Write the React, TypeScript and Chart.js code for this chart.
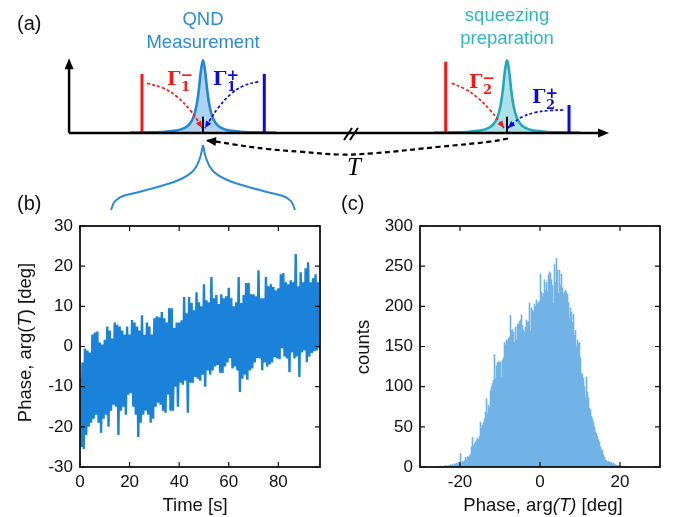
import React, { useEffect, useRef } from "react";
import { Chart, registerables } from "chart.js";

Chart.register(...registerables);

const SANS = '"Liberation Sans", Arial, Helvetica, sans-serif';
const SERIF = '"DejaVu Serif", "Liberation Serif", serif';
const ITSERIF = '"Liberation Serif", "DejaVu Serif", serif';

// ---------------- (b) phase trace: upper / lower excursion in each second ----------------
const traceStepSec = 1;
const phaseHigh = [
  -8, -4, -0.5, -1, -1.5, 3, 3.5, 3.7, 1, 0.5,
  1.7, 5, 4, 2, 6, 5.4, 5, 4, 3, 5,
  3, 6.6, 6, 5, 4, 7.8, 2.9, 6, 5, 3,
  7, 7.5, 7.3, 8.6, 7, 6, 9.6, 9.5, 4.6, 6,
  6, 6.5, 12.3, 8.3, 12.3, 10.8, 9, 13.5, 11, 10,
  15.5, 11.5, 11, 17.3, 12, 12.8, 10.6, 13, 12, 12.5,
  14.6, 12, 10, 11, 17.3, 10.8, 12.8, 15.8, 15.8, 13,
  13, 12.5, 19, 12, 12, 17.3, 15, 15.5, 14.8, 14,
  14.5, 18, 18.3, 16, 15.5, 16.5, 16, 23, 15, 18.5,
  16, 19.5, 21, 16, 17, 18, 16,
];
const phaseLow = [
  -25, -25.5, -22, -20, -19, -18, -17, -19, -21.5, -18,
  -17, -20, -16, -14.5, -15, -22, -16, -15, -17, -12,
  -11.6, -15, -17, -22.5, -19, -17, -16, -17, -19, -18,
  -15, -14, -14.5, -16, -16.5, -12, -16, -16, -10, -15,
  -9, -9.5, -8.5, -16.5, -9, -9, -7.6, -8, -8.5, -7,
  -10, -6, -7, -6, -5, -4.6, -6.5, -6.6, -5, -4,
  -2.9, -5.5, -5, -6, -11.3, -8, -7, -8.3, -6, -5.5,
  -4, -2.9, -3, -5.9, -4, -5, -4.5, -4, -2.7, -3,
  -3.2, -0.4, -2.5, -3, -6.4, -1.5, -3, -2.5, -7.6, -1.5,
  -1, -3.9, -2.5, -1.6, -1.2, -1, -0.5,
];
const timeTicks = [0, 20, 40, 60, 80];
const phaseTicks = [-30, -20, -10, 0, 10, 20, 30];

// ---------------- (c) histogram of phase ----------------
const histStartDeg = -26;
const histBinDeg = 0.25;
const histCounts = [
  0, 0, 1, 0, 1, 0, 1, 1, 1, 2, 1, 1, 2, 1, 3, 2,
  3, 2, 4, 3, 5, 3, 6, 4, 17, 5, 7, 6, 8, 12, 9, 13,
  12, 14, 16, 25, 37, 26, 29, 31, 33, 36, 34, 38, 56, 48, 52, 55,
  60, 68, 85, 66, 77, 74, 95, 100, 104, 108, 140, 110, 126, 130, 131, 130,
  131, 112, 133, 136, 155, 152, 158, 157, 160, 162, 189, 170, 171, 168, 155, 174,
  158, 177, 178, 181, 183, 189, 176, 170, 168, 174, 183, 180, 181, 204, 169, 198,
  195, 193, 203, 200, 208, 203, 205, 206, 240, 218, 212, 216, 233, 220, 230, 218,
  239, 243, 241, 233, 226, 204, 252, 230, 260, 245, 216, 245, 226, 240, 223, 214,
  218, 220, 217, 215, 205, 185, 198, 193, 180, 190, 164, 170, 150, 158, 154, 155,
  136, 117, 115, 110, 100, 86, 112, 93, 86, 73, 71, 63, 60, 56, 50, 44,
  42, 38, 34, 31, 25, 21, 21, 15, 12, 9, 8, 6, 7, 6, 5, 6,
  4, 5, 3, 3, 2, 2, 1, 2, 1, 0, 1, 1, 0, 1, 0, 0,
];
const histPhaseTicks = [-20, 0, 20];
const countTicks = [0, 50, 100, 150, 200, 250, 300];

// ---------------- (a) schematic (frequency axis units / amplitude units) ----------------
const lorentzOffsets = [-13.5, -10, -7, -5, -3.5, -2.5, -1.8, -1.2, -0.8, -0.4, 0, 0.4, 0.8, 1.2, 1.8, 2.5, 3.5, 5, 7, 10, 13.5];
const lorentzHeights = [0.005, 0.009, 0.017, 0.033, 0.066, 0.122, 0.211, 0.375, 0.575, 0.844, 1, 0.844, 0.575, 0.375, 0.211, 0.122, 0.066, 0.033, 0.017, 0.009, 0.005];
const peakCenters = [25, 81.3];
const redLineX = [13.7, 69.94];
const redLineH = [0.808, 0.977];
const blueLineX = [36.35, 92.78];
const blueLineH = [0.808, 0.384];
const centerTickH = 0.224;
const red1Path = [[14.63, 0.681], [17.59, 0.616], [20.19, 0.497], [22.59, 0.315], [24.07, 0.164], [24.81, 0.068]];
const blue1Path = [[35.24, 0.703], [32.41, 0.644], [30.0, 0.521], [27.78, 0.342], [26.3, 0.178], [25.37, 0.068]];
const red2Path = [[71.06, 0.681], [73.52, 0.603], [75.93, 0.479], [78.15, 0.315], [79.81, 0.164], [80.74, 0.068]];
const blue2Path = [[91.72, 0.315], [89.26, 0.308], [86.48, 0.281], [84.07, 0.219], [82.59, 0.144], [81.48, 0.068]];
const delayPath = [[81.48, -0.075], [78.15, -0.119], [68.89, -0.188], [56.48, -0.278], [50.37, -0.295], [42.96, -0.256], [36.85, -0.219], [30.56, -0.155], [27.22, -0.116], [25.56, -0.103]];
const braceRight = [[25, -0.164], [25.56, -0.342], [26.67, -0.507], [29.07, -0.63], [32.78, -0.726], [36.85, -0.808], [39.81, -0.863], [41.3, -0.932], [42.04, -1.055]];
const braceLeft = [[25, -0.164], [24.44, -0.342], [23.33, -0.507], [20.93, -0.63], [17.22, -0.726], [13.15, -0.808], [10.19, -0.863], [8.7, -0.932], [7.96, -1.055]];
const yAxisPath = [[0.2, 0], [0.2, 0.9]];
const xAxisPath = [[0.2, 0], [98.5, 0]];
const breakMarkA = [[51.11, -0.096], [52.59, 0.068]];
const breakMarkB = [[52.22, -0.096], [53.7, 0.068]];

const TRACE = "#1a82d8";
const HIST = "#72b3e6";
const QNDC = "#2b8bd8";
const SQZC = "#2db6c6";
const L1S = "#1e88d6";
const L1F = "rgba(40,140,215,0.38)";
const L2S = "#1fa9bb";
const L2F = "rgba(40,175,195,0.38)";
const RED = "#ff1414";
const BLUE = "#0a0ae6";

const pts = (arr: number[][]) => arr.map(([x, y]) => ({ x, y }));
const lineDs = (arr: number[][], color: string, width: number, extra: any = {}) => ({
  data: pts(arr),
  showLine: true,
  borderColor: color,
  backgroundColor: color,
  borderWidth: width,
  pointRadius: 0,
  fill: false,
  tension: 0,
  ...extra,
});

function drawHead(ctx: CanvasRenderingContext2D, tx: number, ty: number, fx: number, fy: number, len: number, wid: number, color: string) {
  const a = Math.atan2(ty - fy, tx - fx);
  ctx.save();
  ctx.translate(tx, ty);
  ctx.rotate(a);
  ctx.beginPath();
  ctx.moveTo(0, 0);
  ctx.lineTo(-len, wid / 2);
  ctx.lineTo(-len, -wid / 2);
  ctx.closePath();
  ctx.fillStyle = color;
  ctx.fill();
  ctx.restore();
}

type Seg = { t: string; it?: boolean };
function drawSegs(ctx: CanvasRenderingContext2D, segs: Seg[], cx: number, by: number, size: number) {
  const fontOf = (s: Seg) => `${s.it ? "italic " : ""}${size}px ${SANS}`;
  let total = 0;
  const ws = segs.map((s) => {
    ctx.font = fontOf(s);
    const w = ctx.measureText(s.t).width;
    total += w;
    return w;
  });
  let x = cx - total / 2;
  ctx.textAlign = "left";
  ctx.textBaseline = "alphabetic";
  segs.forEach((s, i) => {
    ctx.font = fontOf(s);
    ctx.fillText(s.t, x, by);
    x += ws[i];
  });
}

function makeFramePlugin(cfg: any) {
  return {
    id: "frame",
    afterDatasetsDraw(chart: any) {
      const { ctx, chartArea: a, scales } = chart;
      const len = 5;
      ctx.save();
      ctx.strokeStyle = "#111";
      ctx.lineWidth = 1.2;
      ctx.beginPath();
      for (const t of scales.x.ticks) {
        const px = scales.x.getPixelForValue(t.value);
        ctx.moveTo(px, a.bottom);
        ctx.lineTo(px, a.bottom - len);
        ctx.moveTo(px, a.top);
        ctx.lineTo(px, a.top + len);
      }
      for (const t of scales.y.ticks) {
        const py = scales.y.getPixelForValue(t.value);
        ctx.moveTo(a.left, py);
        ctx.lineTo(a.left + len, py);
        ctx.moveTo(a.right, py);
        ctx.lineTo(a.right - len, py);
      }
      ctx.stroke();
      ctx.lineWidth = 1.8;
      ctx.strokeRect(a.left, a.top, a.right - a.left, a.bottom - a.top);
      ctx.restore();
    },
    afterDraw(chart: any) {
      const ctx = chart.ctx;
      ctx.save();
      ctx.fillStyle = "#111";
      drawSegs(ctx, cfg.xTitle, cfg.xTitleX, cfg.xTitleY, 18.5);
      ctx.save();
      ctx.translate(cfg.yTitleX, cfg.yTitleY);
      ctx.rotate(-Math.PI / 2);
      drawSegs(ctx, cfg.yTitle, 0, 0, 18.5);
      ctx.restore();
      ctx.font = `20px ${SANS}`;
      ctx.textAlign = "left";
      ctx.textBaseline = "alphabetic";
      ctx.fillText(cfg.label, cfg.labelX, cfg.labelY);
      ctx.restore();
    },
  };
}

const tickFont = { family: SANS, size: 17 };

function axisCommon(ticks: number[], extra: any) {
  return {
    type: "linear",
    afterBuildTicks: (s: any) => {
      s.ticks = ticks.map((v) => ({ value: v }));
    },
    grid: { display: false, drawTicks: false },
    border: { display: false },
    ...extra,
  };
}

function cfgB(): any {
  const data: { x: number; y: number }[] = [];
  phaseHigh.forEach((h, i) => {
    data.push({ x: i * traceStepSec, y: h });
    data.push({ x: (i + 0.5) * traceStepSec, y: phaseLow[i] });
  });
  return {
    type: "scatter",
    data: {
      datasets: [
        {
          data,
          showLine: true,
          borderColor: TRACE,
          backgroundColor: TRACE,
          borderWidth: 2.4,
          borderJoinStyle: "bevel",
          pointRadius: 0,
          tension: 0,
        },
      ],
    },
    options: {
      responsive: false,
      animation: false,
      events: [],
      layout: { padding: { top: 36, right: 10, left: 0, bottom: 0 } },
      plugins: { legend: { display: false }, tooltip: { enabled: false } },
      scales: {
        x: axisCommon(timeTicks, {
          min: 0,
          max: 96.8,
          afterFit: (s: any) => {
            s.height = 50;
          },
          ticks: { font: tickFont, color: "#111", padding: 5, maxRotation: 0, autoSkip: false },
        }),
        y: axisCommon(phaseTicks, {
          min: -30,
          max: 30,
          afterFit: (s: any) => {
            s.width = 80;
          },
          ticks: { font: tickFont, color: "#111", padding: 7, autoSkip: false },
        }),
      },
    },
    plugins: [
      makeFramePlugin({
        xTitle: [{ t: "Time [s]" }],
        xTitleX: 195,
        xTitleY: 321,
        yTitle: [{ t: "Phase, arg(" }, { t: "T", it: true }, { t: ") [deg]" }],
        yTitleX: 31,
        yTitleY: 152.5,
        label: "(b)",
        labelX: 17,
        labelY: 20,
      }),
    ],
  };
}

function cfgC(): any {
  const data = histCounts.map((c, i) => ({ x: histStartDeg + (i + 0.5) * histBinDeg, y: c }));
  return {
    type: "bar",
    data: {
      datasets: [
        { data, backgroundColor: HIST, borderWidth: 0, barPercentage: 1, categoryPercentage: 1 },
      ],
    },
    options: {
      responsive: false,
      animation: false,
      events: [],
      layout: { padding: { top: 36, right: 13, left: 0, bottom: 0 } },
      plugins: { legend: { display: false }, tooltip: { enabled: false } },
      scales: {
        x: axisCommon(histPhaseTicks, {
          min: -30,
          max: 30,
          offset: false,
          afterFit: (s: any) => {
            s.height = 50;
          },
          ticks: { font: tickFont, color: "#111", padding: 5, maxRotation: 0, autoSkip: false },
        }),
        y: axisCommon(countTicks, {
          min: 0,
          max: 300,
          afterFit: (s: any) => {
            s.width = 80;
          },
          ticks: { font: tickFont, color: "#111", padding: 7, autoSkip: false },
        }),
      },
    },
    plugins: [
      makeFramePlugin({
        xTitle: [{ t: "Phase, arg" }, { t: "(T)", it: true }, { t: " [deg]" }],
        xTitleX: 203,
        xTitleY: 321,
        yTitle: [{ t: "counts" }],
        yTitleX: 29,
        yTitleY: 157,
        label: "(c)",
        labelX: 1,
        labelY: 20,
      }),
    ],
  };
}

function cfgA(): any {
  const lorentz = (c: number) => lorentzOffsets.map((o, i) => [c + o, lorentzHeights[i]]);
  const datasets: any[] = [
    lineDs(yAxisPath, "#000", 2.5, { order: 1 }),
    lineDs(xAxisPath, "#000", 2.5, { order: 1 }),
    lineDs(breakMarkA, "#000", 2, { order: 1 }),
    lineDs(breakMarkB, "#000", 2, { order: 1 }),
  ];
  peakCenters.forEach((c) => {
    datasets.push(lineDs([[c, 0], [c, centerTickH]], "#000", 2, { order: 2 }));
  });
  redLineX.forEach((x, i) => datasets.push(lineDs([[x, 0], [x, redLineH[i]]], RED, 3, { order: 2 })));
  blueLineX.forEach((x, i) => datasets.push(lineDs([[x, 0], [x, blueLineH[i]]], BLUE, 3, { order: 2 })));
  datasets.push(lineDs(red1Path, RED, 1.7, { order: 3, tension: 0.4, borderDash: [3, 2.2] }));
  datasets.push(lineDs(blue1Path, BLUE, 1.7, { order: 3, tension: 0.4, borderDash: [3, 2.2] }));
  datasets.push(lineDs(red2Path, RED, 1.7, { order: 3, tension: 0.4, borderDash: [3, 2.2] }));
  datasets.push(lineDs(blue2Path, BLUE, 1.7, { order: 3, tension: 0.4, borderDash: [3, 2.2] }));
  datasets.push(lineDs(delayPath, "#000", 2.2, { order: 3, tension: 0.4, borderDash: [5, 3.5] }));
  datasets.push(lineDs(braceLeft, QNDC, 2, { order: 3, tension: 0.4 }));
  datasets.push(lineDs(braceRight, QNDC, 2, { order: 3, tension: 0.4 }));
  datasets.push(
    lineDs(lorentz(peakCenters[0]), L1S, 2.6, { order: 10, cubicInterpolationMode: "monotone", fill: "origin", backgroundColor: L1F })
  );
  datasets.push(
    lineDs(lorentz(peakCenters[1]), L2S, 2.6, { order: 10, cubicInterpolationMode: "monotone", fill: "origin", backgroundColor: L2F })
  );

  const plugin = {
    id: "schematic",
    afterDatasetsDraw(chart: any) {
      const ctx: CanvasRenderingContext2D = chart.ctx;
      const xs = chart.scales.x;
      const ys = chart.scales.y;
      const X = (v: number) => xs.getPixelForValue(v);
      const Y = (v: number) => ys.getPixelForValue(v);
      const headAt = (path: number[][], color: string, len: number, wid: number) => {
        const n = path.length;
        drawHead(ctx, X(path[n - 1][0]), Y(path[n - 1][1]), X(path[n - 2][0]), Y(path[n - 2][1]), len, wid, color);
      };
      // axis arrows
      drawHead(ctx, X(0.2), Y(1.023), X(0.2), Y(0), 11, 9, "#000");
      drawHead(ctx, X(100.2), Y(0), X(0.2), Y(0), 11, 9, "#000");
      headAt(red1Path, RED, 7, 6);
      headAt(blue1Path, BLUE, 7, 6);
      headAt(red2Path, RED, 7, 6);
      headAt(blue2Path, BLUE, 7, 6);
      headAt(delayPath, "#000", 10, 9);

      ctx.save();
      ctx.textBaseline = "alphabetic";
      // titles
      ctx.textAlign = "center";
      ctx.font = `18.5px ${SANS}`;
      ctx.fillStyle = QNDC;
      ctx.fillText("QND", X(25), Y(1.479));
      ctx.fillText("Measurement", X(25), Y(1.164));
      ctx.fillStyle = SQZC;
      ctx.fillText("squeezing", X(81.3), Y(1.541));
      ctx.fillText("preparation", X(81.3), Y(1.226));
      // Gamma rates
      const gamma = (x: number, y: number, sub: string, sup: string, color: string) => {
        const px = X(x);
        const py = Y(y);
        ctx.textAlign = "left";
        ctx.fillStyle = color;
        ctx.font = `bold 19px ${SERIF}`;
        ctx.fillText("Γ", px, py);
        const w = ctx.measureText("Γ").width;
        ctx.font = `bold 13px ${SERIF}`;
        ctx.fillText(sub, px + w + 0.5, py + 6);
        ctx.font = `bold 15px ${SERIF}`;
        ctx.fillText(sup, px + w, py - 5);
      };
      gamma(18.33, 0.658, "1", "−", RED);
      gamma(26.85, 0.658, "1", "+", BLUE);
      gamma(74.26, 0.616, "2", "−", RED);
      gamma(85.93, 0.411, "2", "+", BLUE);
      // delay label
      ctx.fillStyle = "#000";
      ctx.textAlign = "left";
      ctx.font = `italic 25px ${ITSERIF}`;
      ctx.fillText("T", X(51.67), Y(-0.575));
      // panel label
      ctx.font = `20px ${SANS}`;
      ctx.fillStyle = "#111";
      ctx.fillText("(a)", 17, 30);
      ctx.restore();
    },
  };

  return {
    type: "scatter",
    data: { datasets },
    options: {
      responsive: false,
      animation: false,
      events: [],
      layout: { padding: 0 },
      plugins: { legend: { display: false }, tooltip: { enabled: false } },
      scales: {
        x: { type: "linear", display: false, min: -12.593, max: 112.037 },
        y: { type: "linear", display: false, min: -1.1233, max: 1.8219 },
      },
    },
    plugins: [plugin],
  };
}

export default function App() {
  const aRef = useRef<HTMLCanvasElement>(null);
  const bRef = useRef<HTMLCanvasElement>(null);
  const cRef = useRef<HTMLCanvasElement>(null);
  useEffect(() => {
    const charts = [
      new Chart(bRef.current as HTMLCanvasElement, cfgB()),
      new Chart(cRef.current as HTMLCanvasElement, cfgC()),
      new Chart(aRef.current as HTMLCanvasElement, cfgA()),
    ];
    return () => charts.forEach((c) => c.destroy());
  }, []);
  return (
    <div style={{ position: "absolute", left: 0, top: 0, width: 673, height: 517, background: "#fff", overflow: "hidden" }}>
      <canvas ref={bRef} width={330} height={327} style={{ position: "absolute", left: 0, top: 190 }} />
      <canvas ref={cRef} width={333} height={327} style={{ position: "absolute", left: 340, top: 190 }} />
      <canvas ref={aRef} width={673} height={215} style={{ position: "absolute", left: 0, top: 0 }} />
    </div>
  );
}
